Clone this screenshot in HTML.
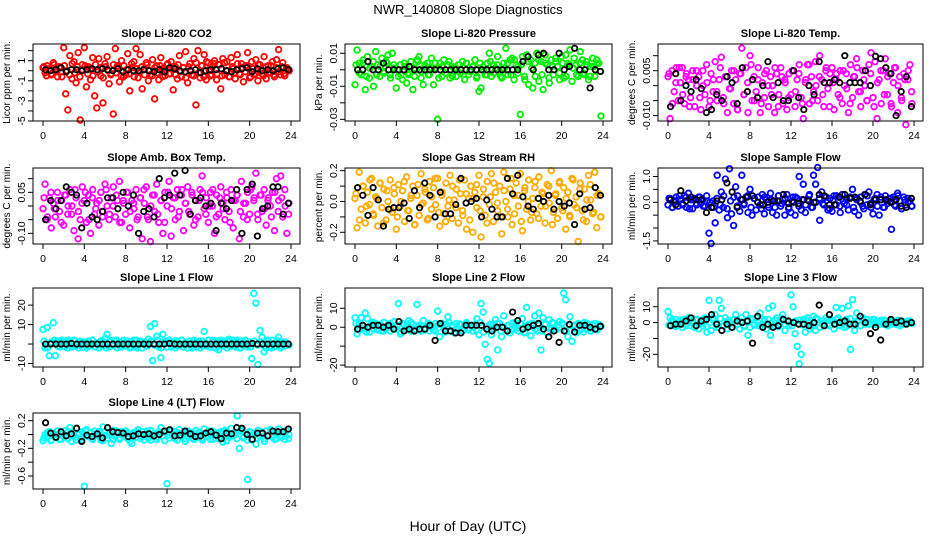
<!DOCTYPE html>
<html><head><meta charset="utf-8"><style>
html,body{margin:0;padding:0;background:#fff}
svg{display:block;font-family:"Liberation Sans",sans-serif}
</style></head><body>
<svg id="chart" width="936" height="540" viewBox="0 0 936 540" xmlns="http://www.w3.org/2000/svg">
<text x="468" y="14" font-size="13" text-anchor="middle">NWR_140808  Slope Diagnostics</text>
<text x="468" y="531" font-size="14" text-anchor="middle">Hour of Day (UTC)</text>
</svg>
<script>
// ---- data (t = hour index spread evenly over 0..24) ----
const co2Colored=[0.3,-0.2,0.5,0.1,-0.4,0.8,0.2,-0.6,0.4,-0.1,2.3,-2.3,-3.9,1.5,-0.8,0.9,-1.2,1.8,-4.9,0.6,
2.3,-1.6,0.4,-0.9,1.3,-2.5,-3.7,1.2,-0.5,-3.2,0.7,1.4,-1.3,-0.3,-4.3,2.2,0.5,-1.1,1.0,-0.6,
-0.4,1.7,-2.0,0.3,0.9,2.2,-0.7,1.6,-1.8,0.2,0.8,-1.0,-0.4,1.1,-2.8,0.5,-0.9,1.3,0.2,-0.5,
0.6,-0.3,0.9,-1.9,0.4,-0.8,1.5,-0.6,0.3,1.9,-1.2,0.7,-0.4,1.2,-3.4,2.0,-0.7,0.5,1.6,-0.9,
0.8,-0.5,0.4,1.0,-0.9,0.6,-1.8,1.2,-0.4,0.9,-0.6,1.3,0.2,-0.8,1.6,-0.3,0.7,-1.1,0.5,1.8,
-0.7,0.9,-0.4,1.1,-1.0,0.6,-0.3,1.4,-0.8,0.5,-0.2,0.9,-0.6,1.1,2.1,-0.4,0.8,-0.5,0.3,0.1];
const co2Band=[0.4,-0.5,0.2,-0.3,0.6,-0.1,0.3,-0.6,0.5,0.0,-0.4,0.7,-0.2,0.4,-0.6,0.1,0.5,-0.3,0.2,-0.5,0.6,-0.1,0.3,-0.7,0.4,0.0,-0.4,0.6,-0.2,0.3,-0.5,0.5,0.1,-0.3,0.7,-0.6,0.2,-0.1,0.4,-0.4,0.6,0.0,-0.5,0.3,-0.2,0.5,-0.6,0.1,0.7,-0.3,0.2,-0.4,0.6,-0.1,0.3,-0.7,0.4,0.0,-0.5,0.8,-0.2,0.5,-0.6,0.9,0.1,-0.4,0.7,-0.3,0.6,-0.5,0.8,0.0,-0.6,0.4,-0.2,0.7,-0.4,0.3,-0.1,0.5,-0.6,0.2,-0.3,0.6,0.0,-0.5,0.4,-0.2,0.5,-0.4,0.3,-0.1,0.4,-0.3,0.2,0.0];
const co2Black=[0.1,0.0,0.1,0.3,-0.1,0.1,0.1,0.0,0.1,0.2,0.1,0.2,0.1,0.0,0.2,-0.1,0.1,0.0,0.0,0.1,0.0,-0.1,0.1,-0.1,0.3,0.2,0.0,-0.1,0.0,0.1,-0.2,0.0,0.1,0.1,0.2,0.0,-0.1,0.1,0.2,0.3,-0.1,0.2,0.0,0.1,0.0,0.2,0.3,0.1];
const presColored=[-.009,.012,.004,-.003,.006,-.012,.008,-.005,.002,-.01,.011,.003,-.004,.007,-.002,.005,.009,-.003,.01,.001,
-.011,-.004,.003,-.006,.002,-.008,-.003,.005,-.012,.001,.006,.008,-.005,-.009,.002,.004,-.003,.007,-.009,.001,
-.03,.004,-.004,.006,-.002,.003,-.005,.002,.001,-.004,.003,-.002,.005,-.006,.004,-.003,-.001,.002,.006,-.004,
-.013,-.011,.002,-.003,.004,.01,-.004,.003,.001,.008,-.002,-.005,.004,.013,-.003,.006,.007,-.006,.003,.002,
-.027,.008,-.004,.009,-.009,.006,-.011,.004,.01,-.007,.005,-.012,.009,.003,-.008,.006,-.003,.007,.002,-.006,
.008,-.005,.009,.004,.012,-.007,.007,.003,-.004,.011,.006,-.003,.005,-.006,.002,.007,-.004,.006,.004,-.028];
const presBand=[.003,-.002,.004,-.004,.001,.005,-.003,.002,-.001,.004,-.005,.003,0,-.003,.004,-.002,.002,-.004,.005,-.001,.003,-.003,.001,.004,-.005,.002,-.002,.005,-.004,.001,.003,-.003,.004,-.001,.002,-.005,.004,0,-.003,.005,-.002,.003,-.004,.001,.004,-.003,.006,-.002,.003,-.006,.005,.001,-.004,.006,-.003,.004,-.005,.002,.005,-.002,.004,-.004,.003,.001,-.003,.004,-.002,.003,-.004,.002,.004,-.001];
const presBlack=[0,0,.005,0,0,.004,0,0,0,0,.002,0,0,0,0,0,0,0,0,0,0,0,0,0,0,0,0,0,0,0,0,0,.005,.008,0,.009,.01,0,0,.01,0,.002,.013,0,0,-.011,0,-.001];
const tempColored=[.003,-.011,.005,-.002,.006,-.005,.001,.006,-.006,.004,.002,-.004,.005,-.007,0,.003,-.008,.005,-.003,.001,
-.007,.004,-.002,.008,-.005,.002,.0095,-.004,.003,-.009,-.001,.005,-.006,.002,-.008,.004,.0125,-.003,.006,-.009,
.01,-.005,.003,-.002,.006,-.009,.001,-.004,.005,-.007,.003,0,-.009,.004,-.003,.006,-.006,.002,-.008,.004,
-.003,.005,-.007,.002,.007,-.004,-.011,.001,.007,-.006,.003,-.002,.008,-.005,.01,.002,-.007,.005,-.001,.004,
.006,-.008,.002,-.003,.005,-.006,0,.004,-.009,.007,-.004,.003,.009,-.002,-.007,.005,0,-.005,.007,.011,
-.004,.008,-.011,.002,-.006,.005,.009,-.003,.004,-.007,.001,.006,-.009,.003,-.005,.004,-.013,.002,.007,-.006];
const tempBand=[.004,-.006,.001,.006,-.003,.003,-.007,.002,.005,-.004,0,.007,-.005,.002,-.002,.006,-.006,.003,-.001,.005,-.008,.004,-.003,.001,.007,-.005,.002,-.006,.004,0,-.003,.006,-.007,.003,.001,-.004,.005,-.002,.004,-.006,.002,.007,-.005,0,.003,-.003,.006,-.007,.001,.004,-.004,.005,-.001,-.006,.003,.006,-.002,.002,-.005,.004,-.007,.001,.005,-.003,.003,-.006,.006,0,-.004,.002,.005,-.002];
const tempBlack=[-.007,.004,-.005,0,-.002,.002,-.001,-.009,-.008,-.003,-.005,.003,.001,-.006,.006,-.002,.002,-.004,0,.008,-.004,.001,-.005,-.005,.005,-.004,-.008,0,-.003,.008,.001,.001,.002,.001,.01,.001,.001,.001,.005,0,.0098,.009,.006,.004,-.01,-.002,.003,-.007];
const ambColored=[-.01,.08,-.05,.03,-.08,.01,-.04,.05,-.02,.02,-.07,.04,-.03,.06,0,-.09,.03,-.12,-.05,.07,
.02,-.06,.04,-.1,.06,-.03,.01,-.07,.05,-.02,.08,0,-.05,.03,.07,-.04,.02,.09,-.06,.01,
-.03,.05,-.08,.02,-.01,.06,-.04,.03,-.12,.01,.07,-.05,-.13,.04,-.02,.08,-.06,.02,-.1,.05,
0,.09,-.11,.03,-.05,.06,-.02,.04,-.09,.01,.07,-.03,.05,-.07,.02,-.04,.06,.11,-.01,.03,
-.06,.05,0,-.1,.04,-.03,.07,.01,-.05,.03,-.02,.06,-.08,.02,.04,-.12,.09,-.04,.01,.05,
-.03,.07,.02,.12,-.05,.04,-.02,.06,-.07,.03,0,.05,-.09,.1,.02,.11,-.04,.06,-.1,.01];
const ambBand=[.03,-.04,.05,-.01,.02,-.06,.04,0,-.03,.06,-.02,.01,.05,-.05,.03,-.01,.02,-.04,.06,-.03,0,.04,-.06,.02,.05,-.02,.01,-.05,.03,.06,-.04,0,.04,-.03,.02,-.06,.05,-.01,.03,-.04,.06,.01,-.02,.04,-.05,.02,.05,-.03,0,.06,-.04,.03,-.01,.05,-.06,.02,.04,-.02,.01,-.05,.06,.03,-.03,.04,-.01,.02,-.04,.05,-.02,.03,0,-.03];
const ambBlack=[-.05,.02,-.01,.02,.07,.05,.04,-.08,.01,-.04,-.05,-.02,.03,.03,-.01,.05,0,.04,-.1,-.02,-.01,-.04,.1,.03,.04,.12,.04,.13,-.03,.02,.03,0,.01,-.09,.01,-.01,.02,.06,-.1,.06,.08,-.11,-.01,0,.07,.07,-.03,.01];
const rhColored=[.02,-.17,.19,-.05,.1,-.14,.06,-.02,.15,-.09,.03,-.16,.12,-.04,.08,-.12,0,.14,-.07,.05,
-.18,.11,-.03,.07,-.13,.16,-.06,.02,.1,-.15,.04,-.09,.18,-.01,.06,-.12,.13,-.05,.09,-.02,
.15,-.16,.04,-.08,.12,-.03,.17,-.11,.01,.08,-.14,.05,-.06,.14,-.18,.02,.1,-.2,.06,-.04,
.17,-.23,.03,-.09,.13,-.02,.18,-.13,.06,-.06,.1,-.21,.19,0,-.1,.08,-.15,.04,.12,-.03,
.18,-.19,.07,-.05,.14,-.12,.02,.09,-.08,.16,-.03,.05,-.14,.11,-.01,.2,-.07,.04,-.11,.13,
-.04,.09,-.18,.06,-.1,.15,-.02,.03,-.26,.12,-.06,.08,-.13,.17,.01,-.08,.19,-.17,.05,-.1];
const rhBand=[.05,-.12,.1,-.03,.14,-.08,.02,.12,-.14,.07,-.05,.09,-.1,0,.13,-.06,.04,-.15,.11,-.02,.08,-.11,.03,.15,-.07,.06,-.13,.01,.1,-.04,.14,-.09,.05,-.12,.02,.11,-.06,.08,-.14,.03,.12,-.01,-.1,.07,-.05,.15,-.08,.04,-.13,.09,0,-.07,.13,-.11,.06,-.03,.1,-.15,.05,.12,-.06,.02,-.09,.14,-.04,.08,-.12,.01,.11,-.07,.04,-.1];
const rhBlack=[.09,.04,-.09,.09,.01,-.16,-.05,-.04,-.04,-.01,-.11,.07,-.04,.12,.04,-.1,.06,-.08,-.08,-.02,.15,-.01,0,.02,-.1,.01,-.05,-.1,-.1,.15,.05,.17,.03,-.03,-.05,.02,0,.04,-.05,0,-.03,-.01,-.15,.05,-.05,-.04,.09,.04];
const flowColored=[-.1,.15,-.2,.05,.2,-.15,.1,-.05,.25,-.2,.35,.1,-.25,.15,-.1,.2,-.05,.1,-.15,.05,
-1.2,-1.6,.05,-.8,1.05,-.3,.4,-.2,.9,-.6,1.3,-.45,-.9,.6,.25,-.35,1.05,-.1,.2,-.4,
.5,-.5,.15,-.3,.2,-.1,.3,-.45,.1,-.2,.35,-.4,.05,-.5,.25,-.15,.1,-.5,.3,-.2,
-.4,.2,-.5,.15,1.0,-.3,.7,-.4,.1,.3,-.2,1.05,.7,1.35,-.7,.4,-.1,.2,-.3,.15,
-.35,.25,-.1,.2,-.4,.3,-.05,.15,-.3,.2,.5,-.35,.1,-.5,.2,-.15,.3,-.1,.4,-.2,
-.45,.15,.3,-.5,.1,-.2,.25,-.05,.15,-1.05,.2,-.15,.35,.05,-.25,.2,-.1,.15,.05,-.15];
const flowBand=[.15,-.2,.05,.25,-.1,.2,-.25,.1,-.05,.2,-.15,.25,0,-.2,.15,-.1,.25,-.25,.05,.2,-.15,.1,-.05,.25,-.2,.15,0,-.25,.2,-.1,.1,-.2,.25,-.05,.15,-.25,.05,.2,-.15,.1,-.1,.25,-.2,0,.15,-.05,.2,-.25,.1,.25,-.15,.05,-.1,.2,-.2,.15,0,-.25,.25,-.05,.1,-.15,.2,-.2,.05,.15,-.1,.25,-.25,.1,0,-.15];
const flowBlack=[.1,-.1,.45,.05,.2,.1,.1,-.4,-.2,.05,.1,.75,.4,-.2,.1,.2,.25,0,-.1,0,.05,.05,.3,-.05,0,-.05,.1,.05,0,.3,.25,-.1,-.1,.2,.3,.15,.2,.05,.3,-.1,.1,.1,.1,0,.1,-.15,-.2,.15];
const line1Colored=[7.5,-2,8.5,-6,1,11,-6,1.5,-1.5,2,-1,1.5,-2,1,-1.5,2,-1,.5,1.5,-1.5,
1,-2,1.5,-1,2,-1.5,.5,-2,1.5,-1,3,5,-1.5,2,-1,1.5,-2,1,-1.5,2,
-1,1.5,-2,1,-1.5,2,-1,1.5,-2,1,-1,2.5,9,-8.5,10.5,4,-1.5,-7,5,1.5,
-1.5,2,-1,1,-2,1.5,-1,2,-1.5,1,-2,1.5,-1,2,-1.5,1,-2,1.5,6.5,-1,
2,-1.5,1,-2,1.5,-3,2,-1,1.5,-2,2.5,-1,2,-1.5,1,-2,1.5,-1,2,-1.5,
1,-7.5,26,21,-10.5,7,3.5,-4,-2,1.5,-1,2,-1.5,1,3.5,-2,1,-1,.5,-.5];
const line1Band=[1.5,-2,.5,2,-1,1,-1.5,2,-.5,1.5,-2,.5,1,-1,2,-1.5,0,1.5,-2,1,-.5,2,-1,.5,1.5,-1.5,2,-2,1,0,-1,1.5,-.5,2,-2,.5,1,-1.5,1.5,-1,2,-.5,0,-2,1,1.5,-1,.5,-1.5,2,-2,1,.5,-.5,1.5,-1,2,-2,1,0,-1.5,1.5,-.5,1,-1,2,-2,.5,1.5,-1,1,-.5];
const line1Black=[0,0,0,0,0,.3,0,0,0,0,0,0,0,0,0,0,0,0,0,0,0,0,0,0,.3,0,0,0,0,0,0,0,0,0,0,0,0,0,0,0,.3,0,0,0,0,0,0,0];
const line2Colored=[5,-3.5,2,5,-1,7.5,4.5,-2.5,1.5,-1,2,-1.5,1,-2,2.5,-1,1.5,-2,1,3,
-1,12.5,-3.5,2,-1.5,1,3.5,-2,1.5,-1,12,1,-2,3.5,-1,1.5,-2,1,-1.5,2,
8.5,-5,2,-1,1.5,5.5,-2,1,-3,2,-1,1.5,-2,1,2.5,-1.5,1,-2,1.5,4.5,
-4,12.5,8,-9,-17,-19,-4,1.5,4,-12,2,-5,6,-1.5,1,-3,2,-1,1.5,-2,
2,4.5,-3,10.5,1.5,-4.5,2,6,-2,7.5,-12,5,1.5,-3,4,-1,2,-1.5,1,3,
2,18,14.5,-5,5.5,-7.5,1,-3,2,-1.5,1,2.5,-1,1.5,-2,1,2,-1,1.5,.5];
const line2Band=[2,-1.5,1,-2.5,.5,2.5,-1,1.5,-2,0,2,-.5,1,-2.5,1.5,-1,2.5,-2,.5,1,-1.5,2,-.5,-2,1.5,1,-2.5,2.5,0,-1,1.5,-2,2,-.5,1,-1.5,2.5,-2.5,.5,1.5,-1,2,-2,0,1,-1.5,2.5,-.5,1.5,-2.5,.5,2,-1,1,-2,1.5,-.5,2.5,-1.5,0,2,-2,1,.5,-1,1.5,-2.5,2,-.5,1,-1.5,.5];
const line2Black=[-1,1,0,1,1,0,1,-1,3,-2,-1,-2,-1,-1,1,-7,2,-2,-2,-3,-3,1,1,1,1,-1,-2,0,0,-2,8,3.5,-1,0,1,2,-1,-5,-2,-8,-2,1.5,-2.5,1,1,0,-1,.5];
const line3Colored=[7,3,1,-2,2,-1,1.5,-3,2,-1,3,-2,1,-3,2,-4,1.5,-2,3,-6,
14,-5,3,5,-3,14,9,-2,3,-4,1,-3,2,5,-1,-4,3,-2,5,-8,
-3,2,-1,3,-2,6,-1,2,-4,9,-8,10.5,-2,3,-1,2,5,-5,1,-2,
17.5,10,-7,-15,-26,-20,2,-6,3,-4,-2,4,-5,2,-3,1,-2,3,-1,2,
1,-4,9.5,3,-2,9,-3,2,10.5,-17,14.5,-5,6,1,-2,3,-1,2,-1,1,
2,-1,1,-1,1.5,-1,1,-1,.5,-1,1,-1,.5,-2,1,-1,.5,-.5,1,-.5];
const line3Band=[-1.5,2,-2.5,1,.5,-2,2.5,-.5,1.5,-1,2,-2.5,0,1.5,-1.5,2.5,-2,1,-.5,2,-1,.5,-2.5,1.5,2.5,-1.5,0,-2,1,2,-.5,1.5,-2.5,2.5,-1,.5,-2,1,1.5,-1.5,2,-.5,-2.5,2.5,0,-1,1.5,-2,1,2,-1.5,.5,-2.5,2.5,-.5,1,-2,1.5,0,-1,2,-1.5,.5,1.5,-2,1,-.5,1.5,-1,.5,1,-.5];
const line3Black=[-2,-1,-1,1,3,-2,1,2,5,-1,-5,-1,-3,1,0,1,-13,4,-3,-1,-3,-2,2,1,0,-1,-1,-2,0,11,-2,5,-1,0,1,-1,-1,4,0,-7,-3,-11,-1,2,0,1,-1,0];
const line4Colored=[-.09,0,-.05,.04,-.08,.02,-.04,.05,-.07,.01,-.03,.06,-.06,.1,-.02,.03,-.08,0,-.05,.04,
-.75,.07,-.03,.02,-.07,.05,-.01,.03,-.08,.11,.04,-.05,0,-.13,.06,-.03,.02,-.07,.04,-.02,
.05,-.06,.01,-.13,.03,-.04,.07,-.02,.04,-.08,.02,-.05,.06,-.03,.01,-.07,.04,.1,-.02,.03,
-.71,-.05,.06,-.02,.04,-.08,.07,-.03,.01,-.06,.05,-.02,.03,-.07,.06,-.04,.02,-.05,.08,-.03,
.03,-.07,.05,-.01,.02,-.06,.04,-.11,.06,0,-.04,.09,-.02,.03,.27,-.2,.07,-.05,.02,-.65,
.04,-.08,.02,-.14,.06,-.03,.01,-.06,.05,-.02,.07,-.04,.03,-.06,.08,-.01,.04,-.07,.06,0];
const line4Band=[-.05,.03,-.09,0,.05,-.07,-.02,.04,-.1,-.04,.02,-.08,.05,-.03,-.06,.01,.04,-.09,-.01,.03,-.07,.05,-.05,-.02,.02,-.1,0,.04,-.06,-.03,.05,-.08,.01,-.04,.03,-.09,-.01,.05,-.06,.02,-.03,-.1,.04,-.05,0,.03,-.08,-.02,.05,-.07,.01,-.04,.04,-.09,-.01,.02,-.06,.05,-.03,-.08,.03,0,-.05,.04,-.1,-.02,.05,-.07,.01,-.04,.03,-.06];
const line4Black=[.17,.02,-.04,.04,-.02,.01,.09,-.1,-.01,-.03,.01,-.05,.1,.04,.03,.02,-.03,-.02,.01,0,.01,-.02,0,.05,.07,-.02,-.01,.05,.01,-.03,-.02,.02,.04,-.01,-.06,.02,.01,.1,.09,0,-.07,.02,.02,-.02,.05,.04,.04,.08];
const xTicks=[0,4,8,12,16,20,24];

const NS="http://www.w3.org/2000/svg";
const svg=document.getElementById('chart');
function mk(tag,attrs,parent){const e=document.createElementNS(NS,tag);for(const k in attrs)e.setAttribute(k,attrs[k]);(parent||svg).appendChild(e);return e;}
const cols=[[33,300],[345,612],[658,923]];
const rows=[[44,121],[168,244],[288,367],[413,489]];
const panels=[
 {name:'co2',title:'Slope Li-820 CO2',ylab:'Licor ppm per min.',c:0,r:0,ylim:[-5,2.66],ticks:[-5,-4,-3,-2,-1,0,1,2],labels:[[1,'1'],[-1,'-1'],[-3,'-3'],[-5,'-5']],color:'#ff0000',col:co2Colored,band:co2Band,blk:co2Black},
 {name:'pressure',title:'Slope Li-820 Pressure',ylab:'kPa per min.',c:1,r:0,ylim:[-0.031,0.0156],ticks:[.01,0,-.01,-.02,-.03],labels:[[.01,'0.01'],[-.01,'-0.01'],[-.03,'-0.03']],color:'#00ee00',col:presColored,band:presBand,blk:presBlack},
 {name:'li820-temp',title:'Slope Li-820 Temp.',ylab:'degrees C per min.',c:2,r:0,ylim:[-0.0118,0.0139],ticks:[.01,.005,0,-.005,-.01],labels:[[.005,'0.005'],[-.01,'-0.010']],color:'#ff00ff',col:tempColored,band:tempBand,blk:tempBlack},
 {name:'amb-box-temp',title:'Slope Amb. Box Temp.',ylab:'degrees C per min.',c:0,r:1,ylim:[-0.139,0.139],ticks:[.1,.05,0,-.05,-.1],labels:[[.05,'0.05'],[-.1,'-0.10']],color:'#ff00ff',col:ambColored,band:ambBand,blk:ambBlack},
 {name:'gas-stream-rh',title:'Slope Gas Stream RH',ylab:'percent per min.',c:1,r:1,ylim:[-0.276,0.2175],ticks:[.2,.1,0,-.1,-.2],labels:[[.2,'0.2'],[0,'0.0'],[-.2,'-0.2']],color:'#ffaa00',col:rhColored,band:rhBand,blk:rhBlack},
 {name:'sample-flow',title:'Slope Sample Flow',ylab:'ml/min per min.',c:2,r:1,ylim:[-1.62,1.33],ticks:[1,.5,0,-.5,-1,-1.5],labels:[[1,'1.0'],[0,'0.0'],[-1.5,'-1.5']],color:'#0000ff',col:flowColored,band:flowBand,blk:flowBlack},
 {name:'line1-flow',title:'Slope Line 1 Flow',ylab:'ml/min per min.',c:0,r:2,ylim:[-11.8,28.8],ticks:[20,10,0,-10],labels:[[20,'20'],[10,'10'],[-10,'-10']],color:'#00ffff',col:line1Colored,band:line1Band,blk:line1Black},
 {name:'line2-flow',title:'Slope Line 2 Flow',ylab:'ml/min per min.',c:1,r:2,ylim:[-21,20.7],ticks:[10,0,-10,-20],labels:[[10,'10'],[0,'0'],[-20,'-20']],color:'#00ffff',col:line2Colored,band:line2Band,blk:line2Black},
 {name:'line3-flow',title:'Slope Line 3 Flow',ylab:'ml/min per min.',c:2,r:2,ylim:[-28,21.8],ticks:[10,0,-10,-20],labels:[[10,'10'],[0,'0'],[-20,'-20']],color:'#00ffff',col:line3Colored,band:line3Band,blk:line3Black},
 {name:'line4-flow',title:'Slope Line 4 (LT) Flow',ylab:'ml/min per min.',c:0,r:3,ylim:[-0.788,0.311],ticks:[.2,0,-.2,-.4,-.6],labels:[[.2,'0.2'],[-.2,'-0.2'],[-.6,'-0.6']],color:'#00ffff',col:line4Colored,band:line4Band,blk:line4Black}
];
panels.forEach(p=>{
  const [x0,x1]=cols[p.c],[y0,y1]=rows[p.r];
  const g=mk('g',{});
  
  
  const xs=t=>(x0+10)+t/24*((x1-9)-(x0+10));
  const ys=v=>y1-(v-p.ylim[0])/(p.ylim[1]-p.ylim[0])*(y1-y0);
  const tt=mk('text',{x:(x0+x1)/2,y:y0-7,'font-size':11,'font-weight':'bold','text-anchor':'middle'},g);
  tt.textContent=p.title;
  
  
  const yl=mk('text',{x:0,y:0,'font-size':10,'text-anchor':'middle',transform:`translate(${x0-23},${(y0+y1)/2}) rotate(-90)`},g);
  yl.textContent=p.ylab;
  
  
  const pg=mk('g',{fill:'none','stroke-width':1.8},g);
  
  
  p.band.forEach((v,i)=>{
    const c=mk('circle',{cx:xs((i+0.3)*24/p.band.length),cy:ys(v),r:2.8,stroke:p.color},pg);
    
    
  });
  p.col.forEach((v,i)=>{
    const c=mk('circle',{cx:xs(i*24/p.col.length),cy:ys(v),r:2.8,stroke:p.color},pg);
    
    
  });
  p.blk.forEach((v,i)=>{
    const c=mk('circle',{cx:xs((i+0.5)*24/p.blk.length),cy:ys(v),r:2.7,stroke:'#000'},pg);
    
    
  });
  const box=mk('rect',{x:x0,y:y0,width:x1-x0,height:y1-y0,fill:'none',stroke:'#000','stroke-width':1},g);
  
  
  p.ticks.forEach(v=>{const y=ys(v);mk('line',{x1:x0,x2:x0-5,y1:y,y2:y,stroke:'#000'},g);});
  p.labels.forEach(([v,s])=>{
    const t=mk('text',{'font-size':10.5,'text-anchor':'middle',transform:`translate(${x0-8},${ys(v)}) rotate(-90)`},g);
    t.textContent=s;
    
    
  });
  xTicks.forEach(v=>{
    const x=xs(v);
    mk('line',{x1:x,x2:x,y1:y1,y2:y1+5,stroke:'#000'},g);
    const t=mk('text',{x:x,y:y1+18,'font-size':10.5,'text-anchor':'middle'},g);
    t.textContent=v;
    
    
  });
});
</script>
</body></html>
